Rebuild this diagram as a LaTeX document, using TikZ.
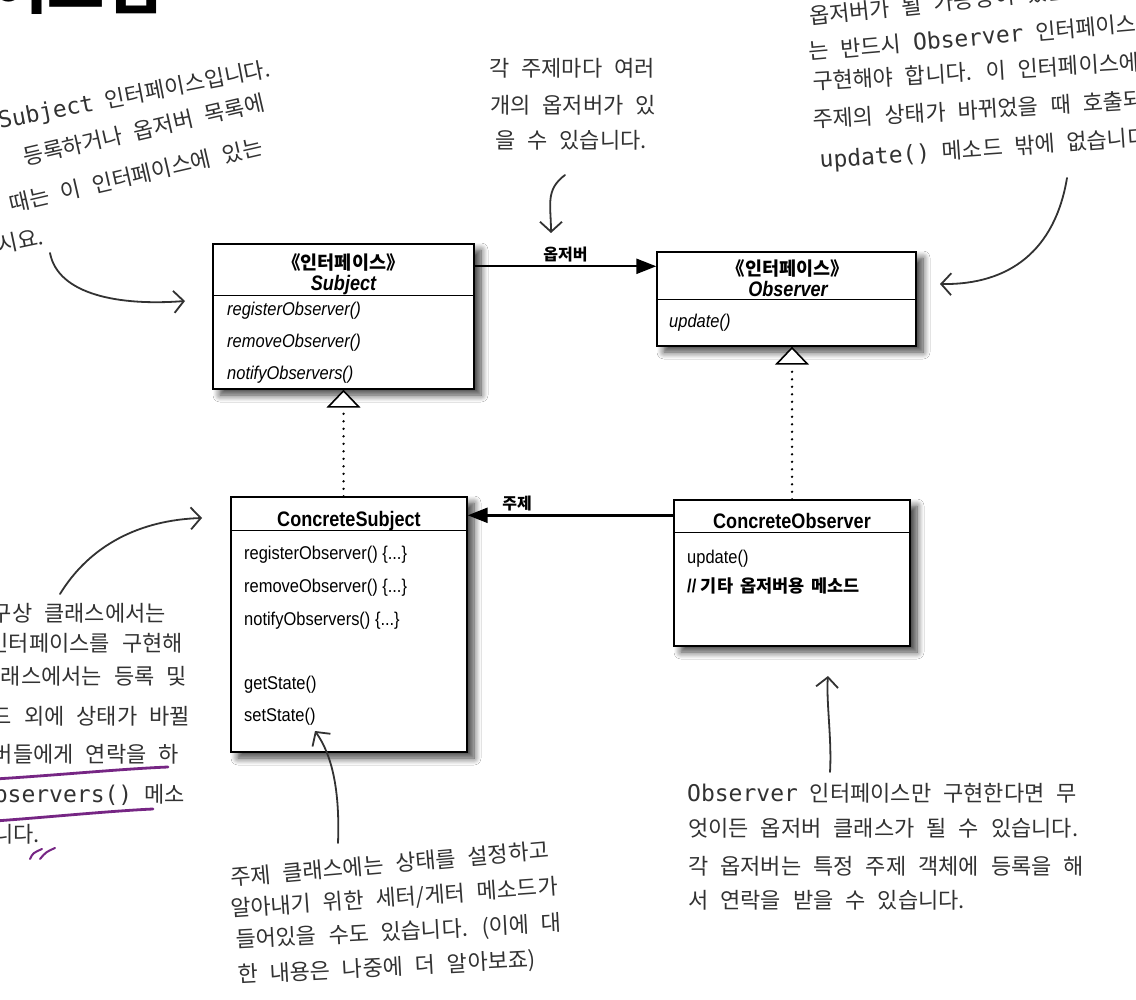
\documentclass[tikz,border=0pt]{standalone}
\usepackage{fontspec}
\usetikzlibrary{arrows.meta,shadows.blur}
\newfontfamily\kr{Noto Sans CJK KR}
\newfontfamily\krlbl{Noto Sans CJK KR}
\newfontfamily\bx{Liberation Sans}[FakeStretch=0.89]
\newfontfamily\bxt{Liberation Sans}[FakeStretch=0.86]
\newfontfamily\hwl{DejaVu Sans Mono}
\definecolor{purp}{RGB}{118,38,132}
\definecolor{pencil}{RGB}{50,50,50}
\newcommand\hwlat[1]{{\hwl\fontsize{23}{23}\selectfont #1}}
\begin{document}
\begin{tikzpicture}[x=1pt,y=-1pt,
  box/.style={draw=black, line width=1.4pt, fill=white, blur shadow={shadow xshift=7pt, shadow yshift=-6pt, shadow blur radius=7pt, shadow blur steps=8, shadow opacity=75}},
  divl/.style={draw=black, line width=1.1pt},
  mth/.style={anchor=base west, inner sep=0pt, font={\bx\fontsize{18.5}{20}\selectfont}},
  cname/.style={anchor=base, inner sep=0pt, font={\bxt\bfseries\fontsize{21}{22}\selectfont}},
  stereo/.style={anchor=base, inner sep=0pt, font={\krlbl\bfseries\fontsize{18.5}{19}\selectfont}},
  lbl/.style={inner sep=0pt, font={\krlbl\bfseries\fontsize{16}{17}\selectfont}},
  assoc/.style={draw=black, line width=2.4pt, -{Triangle[length=20pt,width=15pt]}},
  real/.style={draw=black, line width=2.6pt, line cap=round, dash pattern=on 0pt off 7.5pt, -{Triangle[length=18pt,width=34pt,fill=white,line width=1.6pt]}},
  hw/.style={inner sep=0pt, text=pencil, font={\kr\fontsize{22}{22}\selectfont\spaceskip=12pt plus 2pt minus 2pt\relax}},
  hwarrow/.style={draw=pencil, line width=1.8pt, line cap=round, line join=round, -{Straight Barb[length=10pt,width=22pt,line width=1.8pt]}},
  ul/.style={draw=purp, line width=2.8pt, line cap=round}
]
\fill[white] (0,0) rectangle (1136,1000);
\useasboundingbox (0,0) rectangle (1136,1000);

% partial title at top
\node[anchor=base east, inner sep=0pt, font={\krlbl\bfseries\fontsize{62}{62}\selectfont}] (ttl) at (162,9) {다이어그램};

% boxes
\node[box, minimum width=261pt, minimum height=145pt] (subj) at (343.5,316.5) {};
\node[box, minimum width=259pt, minimum height=94pt] (obs) at (786.5,299) {};
\node[box, minimum width=236pt, minimum height=255pt] (cs) at (349,624.5) {};
\node[box, minimum width=236pt, minimum height=146pt] (co) at (792,573) {};

\draw[divl] ([yshift=-52pt]subj.north west) -- ([yshift=-52pt]subj.north east);
\draw[divl] ([yshift=-48pt]obs.north west) -- ([yshift=-48pt]obs.north east);
\draw[divl] ([yshift=-34pt]cs.north west) -- ([yshift=-34pt]cs.north east);
\draw[divl] ([yshift=-33pt]co.north west) -- ([yshift=-33pt]co.north east);

% Subject
\node[stereo] (sst) at (343.5,270) {《인터페이스》};
\node[cname] (snm) at (343.5,291) {\itshape Subject};
\node[mth] (sm1) at (227,316) {\itshape registerObserver()};
\node[mth] (sm2) at (227,348) {\itshape removeObserver()};
\node[mth] (sm3) at (227,380) {\itshape notifyObservers()};
% Observer
\node[stereo] (ost) at (788,276) {《인터페이스》};
\node[cname] (onm) at (788,297) {\itshape Observer};
\node[mth] (om1) at (669,328) {\itshape update()};
% ConcreteSubject
\node[cname] (csn) at (349,526) {ConcreteSubject};
\node[mth] (c1) at (244,559) {registerObserver() \{...\}};
\node[mth] (c2) at (244,592) {removeObserver() \{...\}};
\node[mth] (c3) at (244,625) {notifyObservers() \{...\}};
\node[mth] (c4) at (244,689) {getState()};
\node[mth] (c5) at (244,721) {setState()};
% ConcreteObserver
\node[cname] (con) at (792,528) {ConcreteObserver};
\node[mth] (o1) at (687,563) {update()};
\node[mth] (o2) at (687,592) {\bfseries // {\krlbl\fontsize{17.5}{18}\selectfont\spaceskip=7pt\relax 기타 옵저버용 메소드}};

% relations
\draw[assoc] ([yshift=-23pt]subj.north east) -- node[lbl, above=3pt] (lob) {옵저버} ([yshift=-15pt]obs.north west);
\draw[assoc] ([yshift=-16pt]co.north west) -- node[lbl, pos=0.76, above=3pt] (lsu) {주제} ([yshift=-19pt]cs.north east);
\draw[real] (subj.south |- cs.north) -- (subj.south);
\draw[real] (co.north) -- (co.north |- obs.south);

% top-left note
\node[hw, anchor=base east, rotate=11] (tl1) at (272,76) {\hwlat{Subject} 인터페이스입니다.};
\node[hw, anchor=base east, rotate=13] (tl2) at (266,110) {등록하거나 옵저버 목록에};
\node[hw, anchor=base east, rotate=13] (tl3) at (264,154) {때는 이 인터페이스에 있는};
\node[hw, anchor=base east, rotate=12] (tl4) at (45,244) {시요.};

% top-middle note
\node[hw, anchor=base west] (tm1) at (489,77) {각 주제마다 여러};
\node[hw, anchor=base west] (tm2) at (490,114) {개의 옵저버가 있};
\node[hw, anchor=base west] (tm3) at (495,149) {을 수 있습니다.};

% top-right note
\node[hw, anchor=base west, rotate=6] (tr0) at (810,25) {옵저버가 될 가능성이 있는 객체에서};
\node[hw, anchor=base west, rotate=5] (tr1) at (809,60) {는 반드시 \hwlat{Observer} 인터페이스를};
\node[hw, anchor=base west, rotate=3.5] (tr2) at (813,90) {구현해야 합니다. 이 인터페이스에는};
\node[hw, anchor=base west, rotate=3.5] (tr3) at (813,128) {주제의 상태가 바뀌었을 때 호출되는};
\node[hw, anchor=base west, rotate=4] (tr4) at (820,168) {\hwlat{update()} 메소드 밖에 없습니다.};

% left-middle note
\node[hw, anchor=base east] (lm1) at (166,621) {구상 클래스에서는};
\node[hw, anchor=base east] (lm2) at (183,651) {인터페이스를 구현해};
\node[hw, anchor=base east] (lm3) at (187,684) {클래스에서는 등록 및};
\node[hw, anchor=base east] (lm4) at (190,724) {메소드 외에 상태가 바뀔};
\node[hw, anchor=base east] (lm5) at (179,762) {옵저버들에게 연락을 하};
\node[hw, anchor=base east] (lm6) at (185,802) {\hwlat{notifyObservers()} 메소};
\node[hw, anchor=base east] (lm7) at (40,842) {니다.};

% bottom-center note
\node[hw, anchor=base west, rotate=5] (bc1) at (231,886) {주제 클래스에는 상태를 설정하고};
\node[hw, anchor=base west, rotate=4] (bc2) at (231,917) {알아내기 위한 세터/게터 메소드가};
\node[hw, anchor=base west, rotate=3] (bc3) at (236,948) {들어있을 수도 있습니다. (이에 대};
\node[hw, anchor=base west, rotate=3] (bc4) at (238,983) {한 내용은 나중에 더 알아보죠)};

% bottom-right note
\node[hw, anchor=base west] (br1) at (687,801) {\hwlat{Observer} 인터페이스만 구현한다면 무};
\node[hw, anchor=base west] (br2) at (688,836) {엇이든 옵저버 클래스가 될 수 있습니다.};
\node[hw, anchor=base west] (br3) at (688,874) {각 옵저버는 특정 주제 객체에 등록을 해};
\node[hw, anchor=base west] (br4) at (688,908) {서 연락을 받을 수 있습니다.};

% purple marks
\coordinate (u1a) at (-5,779); \coordinate (u1b) at (168,767);
\coordinate (u2a) at (-5,821); \coordinate (u2b) at (153,809);
\draw[ul] (u1a) .. controls (60,775) and (120,769) .. (u1b);
\draw[ul] (u2a) .. controls (50,817) and (110,811) .. (u2b);
\coordinate (k1a) at (30,859); \coordinate (k1b) at (42,849);
\coordinate (k2a) at (40,859); \coordinate (k2b) at (55,848);
\draw[ul, line width=2pt] (k1a) .. controls (33,853) .. (k1b);
\draw[ul, line width=2pt] (k2a) .. controls (46,852) .. (k2b);

% pencil arrows
\coordinate (a1s) at (50,253); \coordinate (a1e) at (185,301);
\draw[hwarrow] (a1s) .. controls (58,295) and (120,306) .. (a1e);
\coordinate (a2s) at (565,175); \coordinate (a2e) at (551,233);
\draw[hwarrow] (a2s) .. controls (545,190) and (551,205) .. (a2e);
\coordinate (a3s) at (1067,178); \coordinate (a3e) at (940,284);
\draw[hwarrow] (a3s) .. controls (1055,250) and (1010,285) .. (a3e);
\coordinate (a4s) at (60,594); \coordinate (a4e) at (202,518);
\draw[hwarrow] (a4s) .. controls (90,545) and (140,520) .. (a4e);
\coordinate (a5s) at (338,843); \coordinate (a5e) at (315,731);
\draw[hwarrow] (a5s) .. controls (340,790) and (332,755) .. (a5e);
\coordinate (a6s) at (830,772); \coordinate (a6e) at (828,676);
\draw[hwarrow] (a6s) .. controls (832,740) and (826,700) .. (a6e);
\end{tikzpicture}
\end{document}
